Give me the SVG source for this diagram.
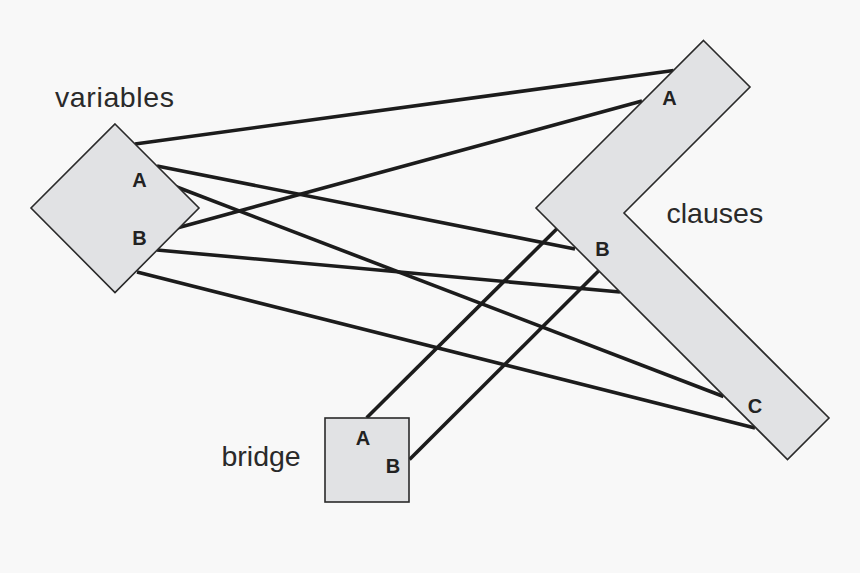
<svg xmlns="http://www.w3.org/2000/svg" width="860" height="573" viewBox="0 0 860 573">
<style>
.bg{fill:#f8f8f8}
.shape{fill:#e1e2e4;stroke:#2a2a2a;stroke-width:1.6;stroke-linejoin:miter}
.conn{stroke:#1c1c1c;stroke-width:3.6;stroke-linecap:butt;fill:none}
.name{font-family:"Liberation Sans",Arial,sans-serif;font-size:28.5px;fill:#2a2a2a}
.port{font-family:"Liberation Sans",Arial,sans-serif;font-size:20px;font-weight:bold;fill:#222;text-anchor:middle}
</style>
<rect class="bg" x="0" y="0" width="860" height="573"/>
<g id="connectors">
<line class="conn" x1="135" y1="144" x2="673.5" y2="70.5"/>
<line class="conn" x1="157" y1="166" x2="575" y2="249"/>
<line class="conn" x1="175.5" y1="186.5" x2="723.5" y2="396.5"/>
<line class="conn" x1="177" y1="228" x2="642" y2="101"/>
<line class="conn" x1="157" y1="250" x2="620" y2="292"/>
<line class="conn" x1="137" y1="272" x2="755" y2="428"/>
<line class="conn" x1="366.7" y1="417.7" x2="556.7" y2="229"/>
<line class="conn" x1="409.5" y1="459.5" x2="598.5" y2="271"/>
</g>
<g id="variables">
<polygon class="shape" points="115,124 199,208 115,292.5 31,208"/>
<text class="port" x="139.5" y="187">A</text>
<text class="port" x="139.5" y="244.5">B</text>
<text class="name" x="55" y="107" textLength="119" lengthAdjust="spacing">variables</text>
</g>
<g id="clauses">
<polygon class="shape" points="703.5,40.5 750,87 624,213 829,418 787.5,459.5 536,208"/>
<text class="port" x="669.5" y="105">A</text>
<text class="port" x="602.5" y="256">B</text>
<text class="port" x="755" y="413">C</text>
<text class="name" x="666.5" y="223">clauses</text>
</g>
<g id="bridge">
<rect class="shape" x="325" y="418" width="84" height="84"/>
<text class="port" x="363" y="445">A</text>
<text class="port" x="393" y="473">B</text>
<text class="name" x="221.5" y="466">bridge</text>
</g>
</svg>
